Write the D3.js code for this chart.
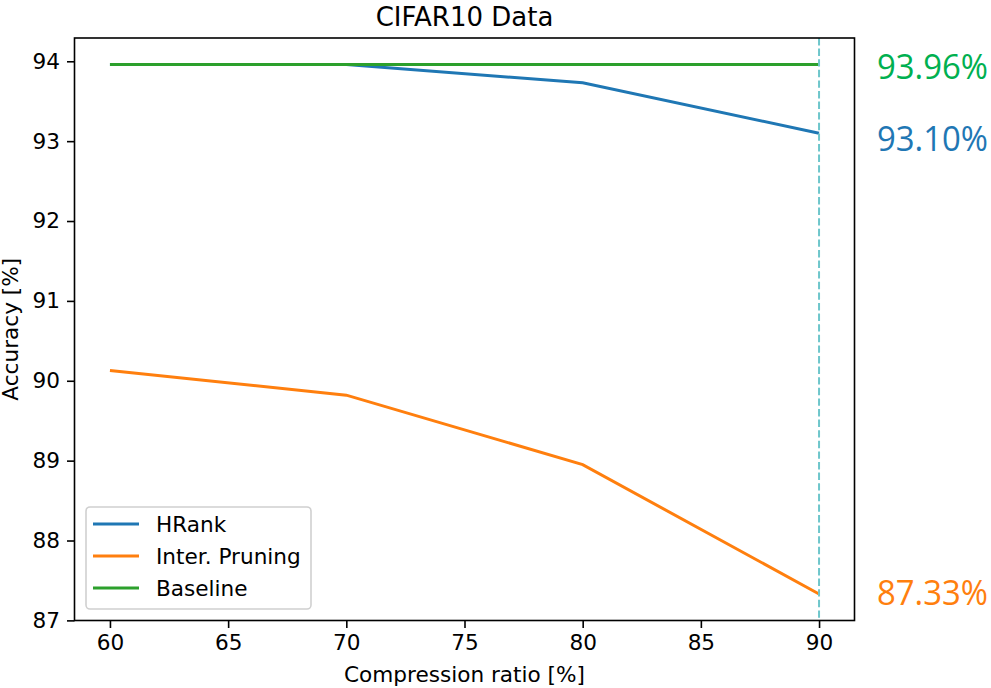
<!DOCTYPE html>
<html lang="en">
<head>
<meta charset="utf-8">
<title>CIFAR10 Data</title>
<script src="https://cdnjs.cloudflare.com/ajax/libs/d3/7.8.5/d3.min.js"></script>
<style>
  body { margin: 0; background: #fff; }
  svg { display: block; font-family: "DejaVu Sans", sans-serif; }
</style>
</head>
<body>
<div id="chart"></div>
<script>
// data
var ratios = [60, 70, 80, 90];
var hrank = [93.96, 93.96, 93.73, 93.10];
var interPruning = [90.13, 89.82, 88.95, 87.33];
var baseline = [93.96, 93.96, 93.96, 93.96];
var seriesNames = ["HRank", "Inter. Pruning", "Baseline"];
var xTicks = [60, 65, 70, 75, 80, 85, 90];
var yTicks = [87, 88, 89, 90, 91, 92, 93, 94];
var endLabels = ["93.96%", "93.10%", "87.33%"];

var width = 991, height = 688;
var m = { left: 74.5, right: 854.5, top: 38, bottom: 620.5 };
var fs = 21.6;

var svg = d3.select("#chart").append("svg")
  .attr("width", width)
  .attr("height", height);

var x = d3.scaleLinear().domain([58.5, 91.5]).range([m.left, m.right]);
var y = d3.scaleLinear().domain([86.9985, 94.2915]).range([m.bottom, m.top]);

var colors = ["#1f77b4", "#ff7f0e", "#2ca02c"];
var series = [hrank, interPruning, baseline];

// axes
var xAxis = svg.append("g")
  .attr("transform", "translate(0," + m.bottom + ")")
  .call(d3.axisBottom(x).tickValues(xTicks).tickSize(7.5).tickPadding(7));
var yAxis = svg.append("g")
  .attr("transform", "translate(" + m.left + ",0)")
  .call(d3.axisLeft(y).tickValues(yTicks).tickSize(7.5).tickPadding(7));

[xAxis, yAxis].forEach(function(g) {
  g.select(".domain").remove();
  g.selectAll(".tick line").attr("stroke", "#000").attr("stroke-width", 1.6);
  g.selectAll(".tick text").attr("font-size", fs).attr("fill", "#000")
    .attr("font-family", "DejaVu Sans");
});

// lines
var line = d3.line()
  .x(function(d, i) { return x(ratios[i]); })
  .y(function(d) { return y(d); });

series.forEach(function(s, i) {
  svg.append("path")
    .datum(s)
    .attr("fill", "none")
    .attr("stroke", colors[i])
    .attr("stroke-width", 3)
    .attr("d", line);
});

// dashed marker at 90
svg.append("line")
  .attr("x1", x(90)).attr("x2", x(90))
  .attr("y1", m.top).attr("y2", m.bottom)
  .attr("stroke", "#6ec6cb")
  .attr("stroke-width", 2)
  .attr("stroke-dasharray", "7.4,3.2");

// frame
svg.append("rect")
  .attr("x", m.left).attr("y", m.top)
  .attr("width", m.right - m.left).attr("height", m.bottom - m.top)
  .attr("fill", "none").attr("stroke", "#000").attr("stroke-width", 1.6);

// title and axis labels
svg.append("text")
  .attr("x", (m.left + m.right) / 2).attr("y", 26)
  .attr("text-anchor", "middle").attr("font-size", 26)
  .text("CIFAR10 Data");

svg.append("text")
  .attr("x", (m.left + m.right) / 2).attr("y", 682)
  .attr("text-anchor", "middle").attr("font-size", fs)
  .text("Compression ratio [%]");

svg.append("text")
  .attr("transform", "translate(18," + (m.top + m.bottom) / 2 + ") rotate(-90)")
  .attr("text-anchor", "middle").attr("font-size", fs)
  .text("Accuracy [%]");

// legend
var legend = svg.append("g");
legend.append("rect")
  .attr("x", 86).attr("y", 507)
  .attr("width", 225).attr("height", 102)
  .attr("rx", 4)
  .attr("fill", "#fff").attr("fill-opacity", 0.8)
  .attr("stroke", "#d0d0d0").attr("stroke-width", 1.6);

seriesNames.forEach(function(name, i) {
  var cy = 524 + i * 32;
  legend.append("line")
    .attr("x1", 93).attr("x2", 139)
    .attr("y1", cy).attr("y2", cy)
    .attr("stroke", colors[i]).attr("stroke-width", 3);
  legend.append("text")
    .attr("x", 156).attr("y", cy + 7.5)
    .attr("font-size", fs)
    .text(name);
});

// end value labels on the right
var endColors = ["#00b050", "#1f77b4", "#ff7f0e"];
var endBaselines = [79, 151, 605];
endLabels.forEach(function(t, i) {
  svg.append("text")
    .attr("x", 877).attr("y", endBaselines[i])
    .attr("font-family", "'Open Sans', 'Noto Sans', sans-serif")
    .attr("font-size", 35)
    .attr("textLength", 111)
    .attr("lengthAdjust", "spacingAndGlyphs")
    .attr("fill", endColors[i])
    .text(t);
});
</script>
</body>
</html>
